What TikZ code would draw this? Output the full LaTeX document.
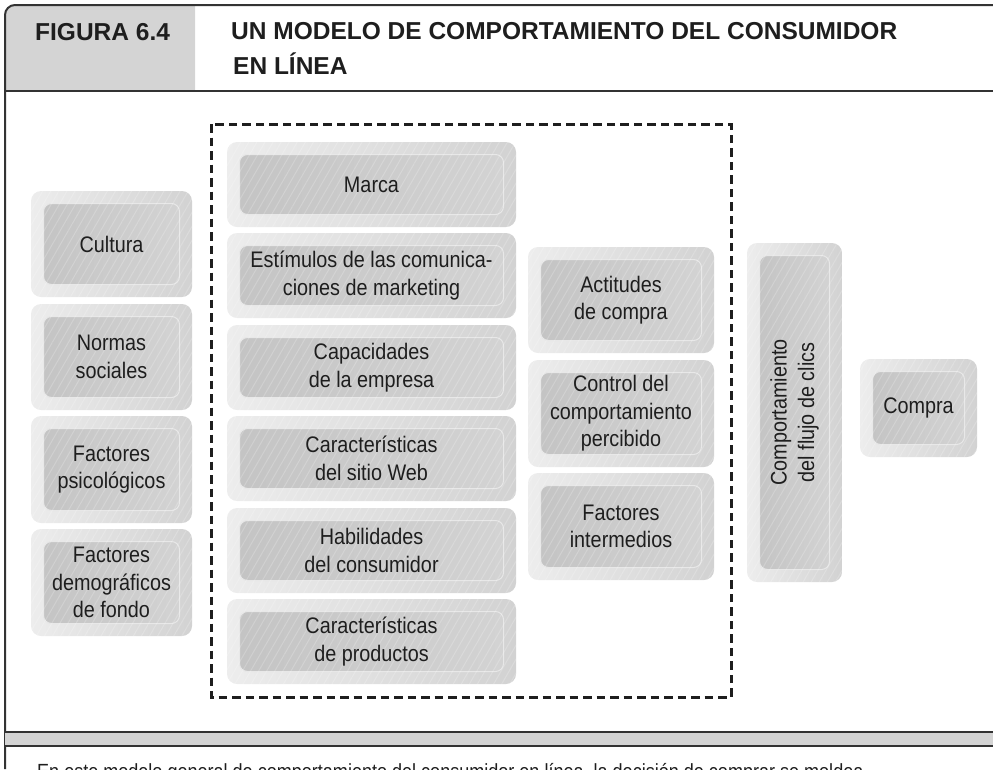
\documentclass[tikz,border=0pt]{standalone}
\usepackage{fontspec}
\setmainfont{Liberation Sans}
\newfontfamily\boxfont[FakeStretch=0.88]{Liberation Sans}
\newfontfamily\capfont[FakeStretch=0.88]{Liberation Sans}
\usetikzlibrary{calc,patterns.meta}
\definecolor{hdr}{HTML}{D4D4D4}
\definecolor{framec}{HTML}{333333}
\definecolor{obl}{HTML}{EDEDED}
\definecolor{obr}{HTML}{D2D2D2}
\definecolor{ibl}{HTML}{C4C4C4}
\definecolor{ibr}{HTML}{D3D3D3}
\definecolor{ibd}{HTML}{E8E8E8}
\definecolor{txt}{HTML}{1E1E1E}
\tikzset{
  frame/.style={draw=framec, line width=2pt},
  outerbox/.style={rounded corners=10pt, left color=obl, right color=obr},
  innerbox/.style={rounded corners=8pt, left color=ibl, right color=ibr, draw=ibd, line width=1pt},
  stripes/.style={rounded corners=10pt, pattern={Lines[angle=60,distance=7pt,line width=1pt]}, pattern color=white, opacity=0.2},
  boxtext/.style={font=\boxfont\fontsize{22.5}{27.5}\selectfont, text=txt, align=center, inner sep=0pt},
  titletext/.style={font=\rmfamily\bfseries\fontsize{24.5}{35}\selectfont, text=txt, inner sep=0pt, anchor=base west},
  captext/.style={font=\capfont\fontsize{20.5}{25}\selectfont, text=txt, inner sep=0pt, anchor=base west},
  dashbox/.style={draw=txt, line width=3pt, dash pattern=on 8.5pt off 5pt}
}
% #1 node options, #2 name, #3 x1, #4 y1, #5 x2, #6 y2, #7 text
\newcommand\grbox[7]{%
  \path[outerbox] (#3,#4) rectangle (#5,#6);
  \path[innerbox] ($(#3,#4)+(12.5,12.5)$) rectangle ($(#5,#6)+(-12.5,-12.5)$);
  \path[stripes] (#3,#4) rectangle (#5,#6);
  \node[boxtext,#1] (#2) at ($(#3,#4)!0.5!(#5,#6)$) {#7};}
\begin{document}
\begin{tikzpicture}[x=1pt,y=-1pt]
\useasboundingbox (0,0) rectangle (993,769);
\clip (0,0) rectangle (993,769);
% header
\fill[hdr] (5,91) -- (5,15) arc[start angle=180,end angle=270,radius=10] -- (195,5) -- (195,91) -- cycle;
\draw[frame] (5,769) -- (5,15) arc[start angle=180,end angle=270,radius=10] -- (993,5);
\draw[frame] (5,91) -- (993,91);
\node[titletext] (fig) at (35,40) {FIGURA 6.4};
\node[titletext] (title1) at (231,39) {UN MODELO DE COMPORTAMIENTO DEL CONSUMIDOR};
\node[titletext] (title2) at (233,74) {EN LÍNEA};
% bottom strip
\fill[hdr] (5,732) rectangle (993,746);
\draw[frame] (5,732) -- (993,732);
\draw[frame] (5,746) -- (993,746);
\node[captext] (cap) at (37,778) {En este modelo general de comportamiento del consumidor en línea, la decisión de comprar se moldea};
% dashed frame
\draw[dashbox] (211,124) rectangle (731,697);
% left column
\grbox{}{cultura}{31}{191}{192}{297}{Cultura}
\grbox{}{normas}{31}{304}{192}{410}{Normas\\sociales}
\grbox{}{psico}{31}{416}{192}{523}{Factores\\psicológicos}
\grbox{}{demog}{31}{529}{192}{636}{Factores\\demográficos\\de fondo}
% middle column
\grbox{}{marca}{227}{142}{516}{227}{Marca}
\grbox{}{estim}{227}{233}{516}{318}{Estímulos de las comunica-\\ciones de marketing}
\grbox{}{capac}{227}{325}{516}{410}{Capacidades\\de la empresa}
\grbox{}{sitio}{227}{416}{516}{501}{Características\\del sitio Web}
\grbox{}{habil}{227}{508}{516}{593}{Habilidades\\del consumidor}
\grbox{}{produc}{227}{599}{516}{684}{Características\\de productos}
% right column
\grbox{}{actit}{528}{247}{714}{353}{Actitudes\\de compra}
\grbox{}{control}{528}{360}{714}{467}{Control del\\comportamiento\\percibido}
\grbox{}{interm}{528}{473}{714}{580}{Factores\\intermedios}
% click stream
\grbox{rotate=90}{flujo}{747}{243}{842}{582}{Comportamiento\\del flujo de clics}
% purchase
\grbox{}{compra}{860}{359}{977}{457}{Compra}
\end{tikzpicture}
\end{document}
